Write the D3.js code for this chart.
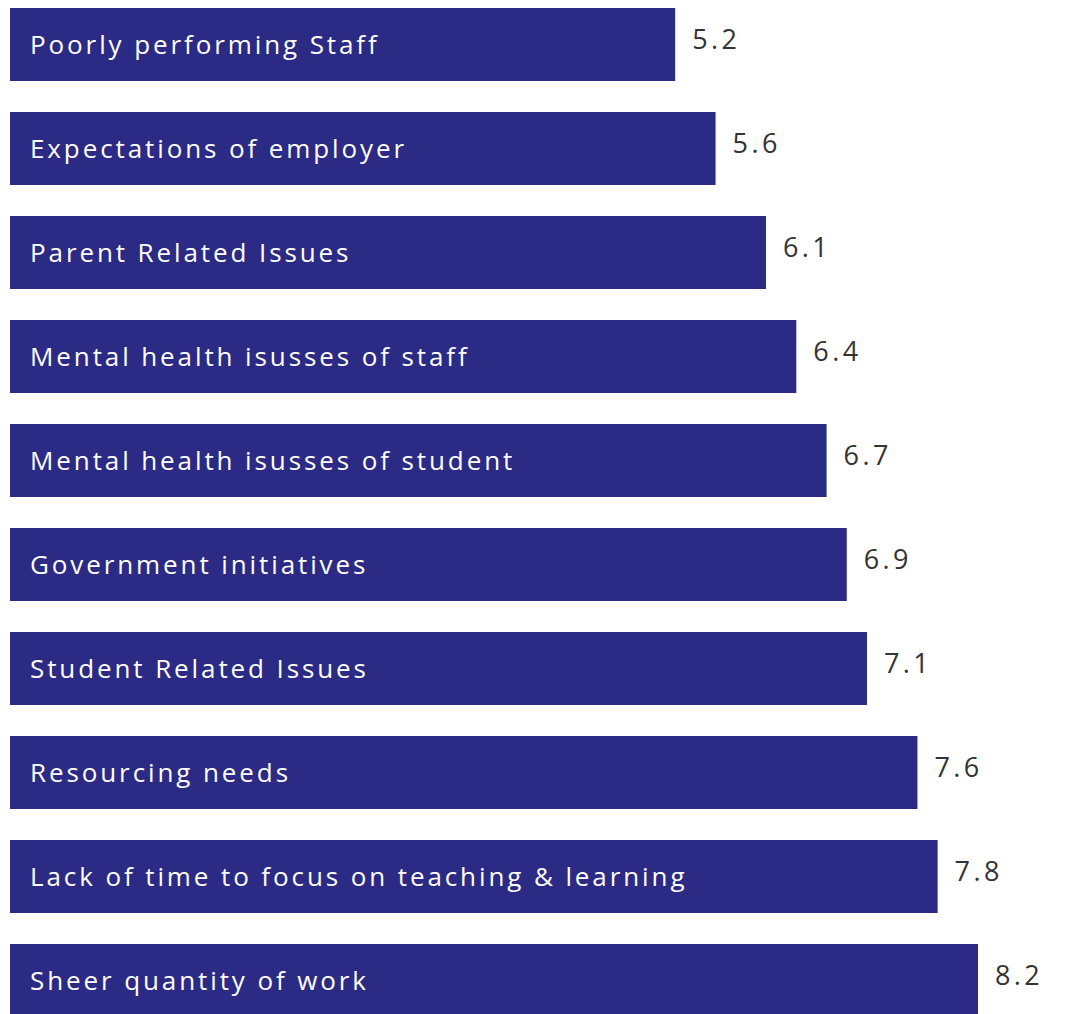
<!DOCTYPE html>
<html>
<head>
<meta charset="utf-8">
<script src="https://cdn.jsdelivr.net/npm/d3@7"></script>
<style>
  html, body { margin: 0; padding: 0; background: #ffffff; }
  svg { display: block; }
</style>
</head>
<body>
<script>
// Workload pressure items, top to bottom
const categories = [
  "Poorly performing Staff",
  "Expectations of employer",
  "Parent Related Issues",
  "Mental health isusses of staff",
  "Mental health isusses of student",
  "Government initiatives",
  "Student Related Issues",
  "Resourcing needs",
  "Lack of time to focus on teaching & learning",
  "Sheer quantity of work"
];
const scores = [5.2, 5.6, 6.1, 6.4, 6.7, 6.9, 7.1, 7.6, 7.8, 8.2];
const scoreLabels = ["5.2", "5.6", "6.1", "6.4", "6.7", "6.9", "7.1", "7.6", "7.8", "8.2"];

const width = 1069, height = 1014;
const barColor = "#2b2a85";

const svg = d3.select("body").append("svg")
  .attr("width", width)
  .attr("height", height);

const data = categories.map((c, i) => ({ cat: c, value: scores[i], label: scoreLabels[i] }));

// Bars start from a shifted baseline so differences between items read clearly
const x = d3.scaleLinear().domain([-1.39, 8.2]).range([10, 978]);
const y = d3.scaleBand().domain(categories).range([8, 1017]).paddingInner(0.298).paddingOuter(0);

const rows = svg.selectAll("g.row").data(data).join("g").attr("class", "row");

rows.append("rect")
  .attr("x", x(-1.39))
  .attr("y", d => y(d.cat))
  .attr("width", d => x(d.value) - x(-1.39))
  .attr("height", y.bandwidth())
  .attr("fill", barColor);

rows.append("text")
  .attr("x", 30)
  .attr("y", d => y(d.cat) + y.bandwidth() / 2)
  .attr("dy", "0.35em")
  .attr("fill", "#ffffff")
  .style("font-family", "'Open Sans', sans-serif")
  .style("font-size", "26px")
  .style("letter-spacing", "2.9px")
  .text(d => d.cat);

rows.append("text")
  .attr("x", d => x(d.value) + 17)
  .attr("y", d => y(d.cat) + y.bandwidth() / 2 - 5)
  .attr("dy", "0.35em")
  .attr("fill", "#333333")
  .style("font-family", "'Open Sans', sans-serif")
  .style("font-size", "27px")
  .style("letter-spacing", "3.4px")
  .text(d => d.label);
</script>
</body>
</html>
